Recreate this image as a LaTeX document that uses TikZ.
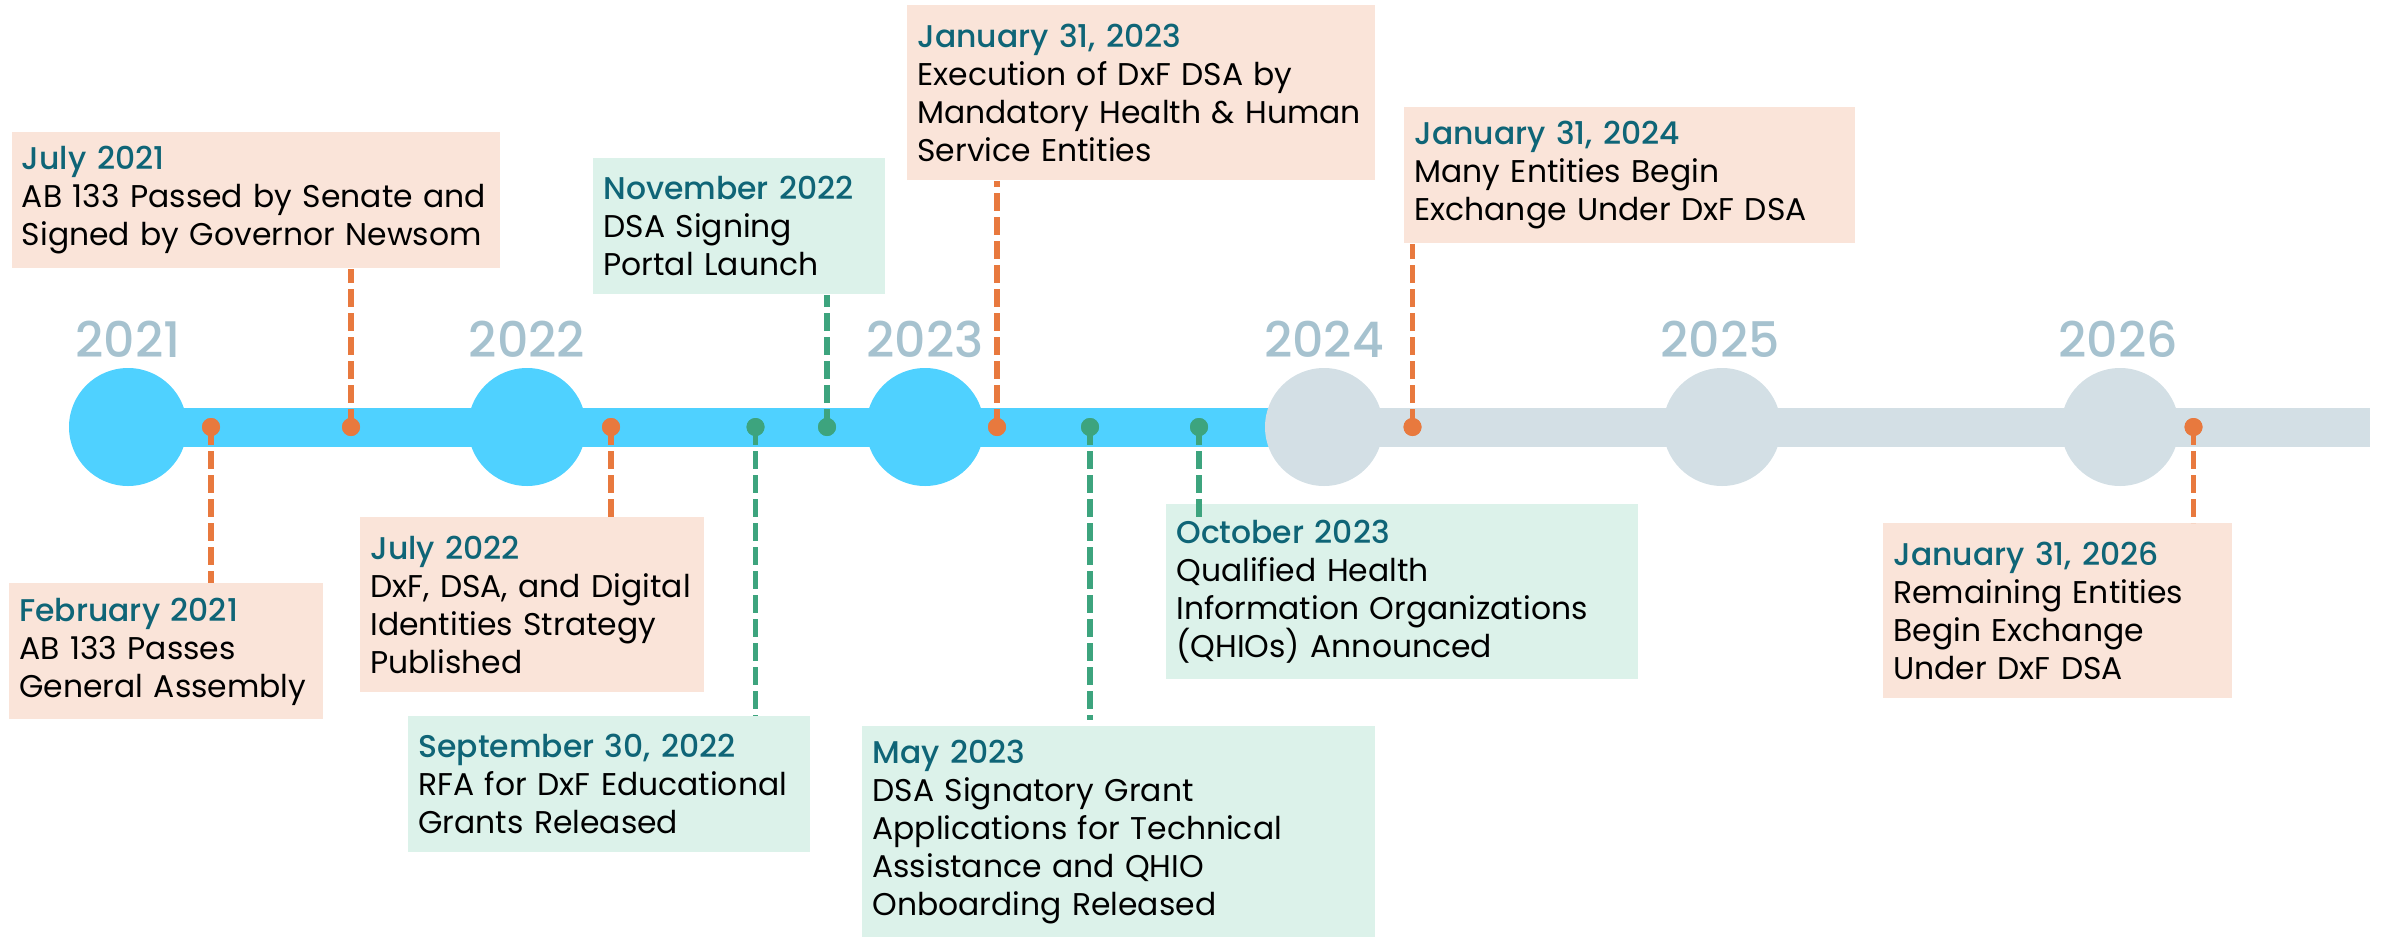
\documentclass[tikz,border=0pt]{standalone}
\usepackage{fontspec}
\setmainfont{Poppins}
\newfontfamily\datefont{Poppins}[UprightFont=* Medium]
\usepackage{xcolor}
\usepackage{tikz}
\definecolor{barblue}{HTML}{4FD1FF}
\definecolor{bargray}{HTML}{D3DFE5}
\definecolor{yeartext}{HTML}{A6C2CF}
\definecolor{evorange}{HTML}{E8793E}
\definecolor{evgreen}{HTML}{3DA47E}
\definecolor{peachfill}{HTML}{FAE4D9}
\definecolor{mintfill}{HTML}{DCF2EA}
\definecolor{datecol}{HTML}{0F6577}
\newcommand{\datefmt}[1]{{\datefont\textcolor{datecol}{#1}}}
\tikzset{
  evbox/.style={anchor=north west, inner xsep=5pt, inner ysep=0pt, align=left,
    font=\fontsize{15.7}{19}\selectfont},
  peachbox/.style={evbox, fill=peachfill},
  mintbox/.style={evbox, fill=mintfill},
  yeardot/.style={circle, minimum size=59pt, inner sep=0pt},
  yearlab/.style={anchor=base, text=yeartext, font=\datefont\fontsize{24.5}{30}\selectfont},
  odot/.style={circle, minimum size=9pt, inner sep=0pt, fill=evorange},
  gdot/.style={circle, minimum size=9pt, inner sep=0pt, fill=evgreen},
  oline/.style={draw=evorange, line width=2.85pt, dash pattern=on 9pt off 3pt},
  gline/.style={draw=evgreen, line width=2.85pt, dash pattern=on 9pt off 3pt},
}

\begin{document}
\begin{tikzpicture}[x=0.5pt, y=-0.5pt]
  \useasboundingbox (0,0) rectangle (2382,937);

  % bar
  \fill[barblue] (128,407.5) rectangle (1269,447);
  \fill[bargray] (1269,407.5) rectangle (2370,447);

  % years
  \node[yeardot, fill=barblue] (y21) at (128,427) {};
  \node[yeardot, fill=barblue] (y22) at (527,427) {};
  \node[yeardot, fill=barblue] (y23) at (925,427) {};
  \node[yeardot, fill=bargray] (y24) at (1324,427) {};
  \node[yeardot, fill=bargray] (y25) at (1722,427) {};
  \node[yeardot, fill=bargray] (y26) at (2120,427) {};
  \node[yearlab] at (128,357) {2021};
  \node[yearlab] at (527,357) {2022};
  \node[yearlab] at (925,357) {2023};
  \node[yearlab] at (1324,357) {2024};
  \node[yearlab] at (1720,357) {2025};
  \node[yearlab] at (2118,357) {2026};

  % boxes
  \node[peachbox, text width=147pt, minimum height=68pt] (b21feb) at (9,583)
    {\datefmt{February 2021}\\AB 133 Passes\\General Assembly};
  \node[peachbox, text width=234pt, minimum height=68pt] (b21jul) at (11.5,132)
    {\datefmt{July 2021}\\AB 133 Passed by Senate and\\Signed by Governor Newsom};
  \node[peachbox, text width=162pt, minimum height=87.5pt] (b22jul) at (360,517)
    {\datefmt{July 2022}\\DxF, DSA, and Digital\\Identities Strategy\\Published};
  \node[mintbox, text width=191pt, minimum height=68pt] (b22sep) at (408,716)
    {\datefmt{September 30, 2022}\\RFA for DxF Educational\\Grants Released};
  \node[mintbox, text width=136pt, minimum height=68pt] (b22nov) at (593,158)
    {\datefmt{November 2022}\\DSA Signing\\Portal Launch};
  \node[peachbox, text width=224pt, minimum height=87.5pt] (b23jan) at (907,5)
    {\datefmt{January 31, 2023}\\Execution of DxF DSA by\\Mandatory Health \& Human\\Service Entities};
  \node[mintbox, text width=246.5pt, minimum height=105.5pt] (b23may) at (862,726)
    {\datefmt{May 2023}\\DSA Signatory Grant\\Applications for Technical\\Assistance and QHIO\\Onboarding Released};
  \node[mintbox, text width=226pt, minimum height=87.5pt] (b23oct) at (1166,504)
    {\datefmt{October 2023}\\Qualified Health\\Information Organizations\\(QHIOs) Announced};
  \node[peachbox, text width=215.5pt, minimum height=68pt] (b24jan) at (1404,107)
    {\datefmt{January 31, 2024}\\Many Entities Begin\\Exchange Under DxF DSA};
  \node[peachbox, text width=164.5pt, minimum height=87.5pt] (b26jan) at (1883,523)
    {\datefmt{January 31, 2026}\\Remaining Entities\\Begin Exchange\\Under DxF DSA};

  % events on the bar
  \node[odot] (d21feb) at (211,427) {};
  \node[odot] (d21jul) at (351,427) {};
  \node[odot] (d22jul) at (611,427) {};
  \node[gdot] (d22sep) at (755.5,427) {};
  \node[gdot] (d22nov) at (827,427) {};
  \node[odot] (d23jan) at (997,427) {};
  \node[gdot] (d23may) at (1090,427) {};
  \node[gdot] (d23oct) at (1199,427) {};
  \node[odot] (d24jan) at (1412.5,427) {};
  \node[odot] (d26jan) at (2193.5,427) {};
  \coordinate (e23may) at (1090,720);
  \coordinate (e23oct) at (1199,521);

  \draw[oline] (d21feb.center) -- (d21feb |- b21feb.north);
  \draw[oline] (d21jul.center) -- (d21jul |- b21jul.south);
  \draw[oline] (d22jul.center) -- (d22jul |- b22jul.north);
  \draw[gline] (d22sep.center) -- (d22sep |- b22sep.north);
  \draw[gline] (d22nov.center) -- (d22nov |- b22nov.south);
  \draw[oline] (d23jan.center) -- (d23jan |- b23jan.south);
  \draw[gline] (d23may.center) -- (e23may);
  \draw[gline] (d23oct.center) -- (e23oct);
  \draw[oline] (d24jan.center) -- (d24jan |- b24jan.south);
  \draw[oline] (d26jan.center) -- (d26jan |- b26jan.north);

  % dots over the lines
  \foreach \d/\s in {d21feb/odot, d21jul/odot, d22jul/odot, d22sep/gdot, d22nov/gdot,
      d23jan/odot, d23may/gdot, d23oct/gdot, d24jan/odot, d26jan/odot}
    \node[\s] at (\d) {};
\end{tikzpicture}
\end{document}
